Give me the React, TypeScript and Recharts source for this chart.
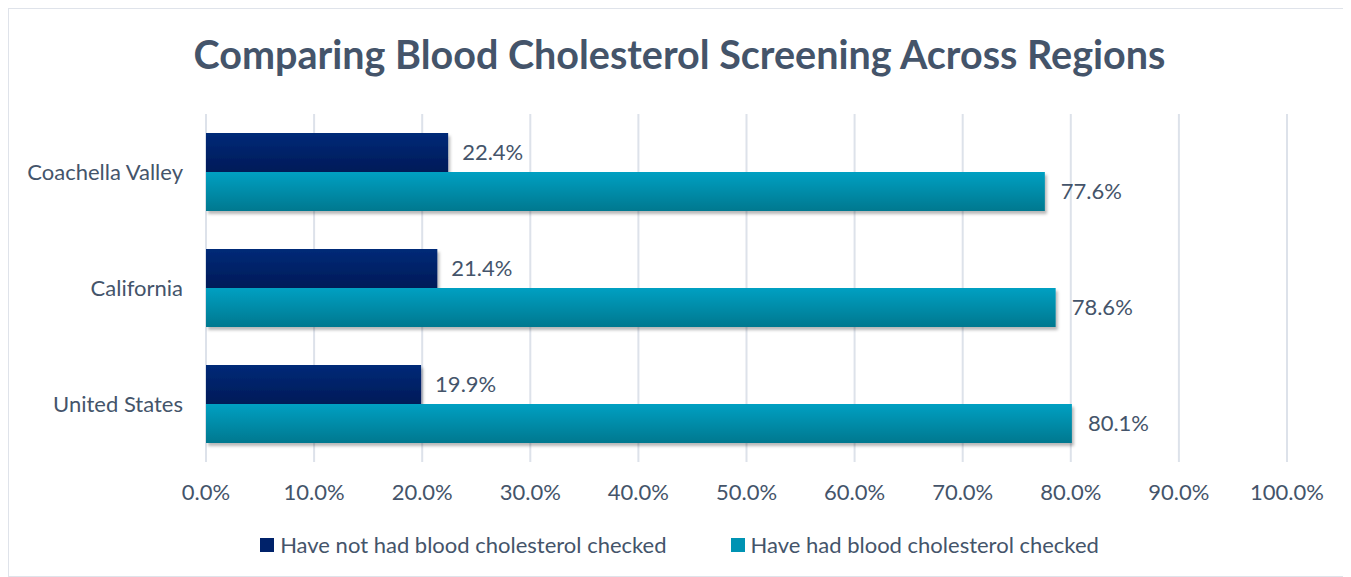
import React from 'react'
import { BarChart, Bar, XAxis, YAxis, CartesianGrid, Legend, LabelList } from 'recharts'

const regions = ['Coachella Valley', 'California', 'United States']
const notChecked = [22.4, 21.4, 19.9]
const checked = [77.6, 78.6, 80.1]
const xTicks = [0, 10, 20, 30, 40, 50, 60, 70, 80, 90, 100]

const SERIES_NOT = 'Have not had blood cholesterol checked'
const SERIES_YES = 'Have had blood cholesterol checked'

const TEXT = '#44546A'
const FONT = 'Lato, "Open Sans", sans-serif'
const FS = 22

const data = regions.map((name, i) => ({
  name,
  notChecked: notChecked[i],
  checked: checked[i],
}))

function LegendBox() {
  const items = [
    { label: SERIES_NOT, solid: '#00226a' },
    { label: SERIES_YES, solid: '#0093b3' },
  ]
  return (
    <div style={{ display: 'flex', justifyContent: 'center', gap: 64, fontFamily: FONT, fontSize: FS, color: TEXT }}>
      {items.map((it) => (
        <div key={it.label} style={{ display: 'flex', alignItems: 'center' }}>
          <svg width={14} height={14} style={{ marginRight: 6 }}>
            <rect width={14} height={14} fill={it.solid} />
          </svg>
          <span>{it.label}</span>
        </div>
      ))}
    </div>
  )
}

export default function App() {
  return (
    <div
      style={{
        position: 'relative',
        width: 1341,
        height: 567,
        border: '1px solid #dfe3ea',
        background: '#fff',
      }}
    >
      <div
        style={{
          position: 'absolute',
          top: 21,
          left: 0,
          width: '100%',
          textAlign: 'center',
          fontFamily: FONT,
          fontWeight: 700,
          fontSize: 39.5,
          color: TEXT,
        }}
      >
        Comparing Blood Cholesterol Screening Across Regions
      </div>
      <BarChart
        width={1341}
        height={567}
        data={data}
        layout="vertical"
        barGap={0}
        barCategoryGap={19}
        margin={{ top: 105, right: 63, left: 0, bottom: 47 }}
      >
        <defs>
          <linearGradient id="gradNavy" x1="0" y1="0" x2="0" y2="1">
            <stop offset="0%" stopColor="#002a78" />
            <stop offset="100%" stopColor="#001a58" />
          </linearGradient>
          <linearGradient id="gradTeal" x1="0" y1="0" x2="0" y2="1">
            <stop offset="0%" stopColor="#00a0c2" />
            <stop offset="100%" stopColor="#00788f" />
          </linearGradient>
          <filter id="barShadow" x="-5%" y="-20%" width="110%" height="160%">
            <feDropShadow dx="2" dy="3" stdDeviation="1.5" floodColor="#000" floodOpacity="0.28" />
          </filter>
        </defs>
        <CartesianGrid horizontal={false} stroke="#dde2ea" strokeWidth={2} />
        <XAxis
          type="number"
          domain={[0, 100]}
          ticks={xTicks}
          tickFormatter={(v: number) => `${v.toFixed(1)}%`}
          axisLine={false}
          tickLine={false}
          tickMargin={16}
          height={40}
          tick={{ fill: TEXT, fontSize: FS, fontFamily: FONT }}
          interval={0}
        />
        <YAxis
          type="category"
          dataKey="name"
          width={197}
          axisLine={false}
          tickLine={false}
          tickSize={0}
          tickMargin={23}
          tick={{ fill: TEXT, fontSize: FS, fontFamily: FONT }}
        />
        <Legend verticalAlign="bottom" wrapperStyle={{ top: 522, left: 0, width: 1341 }} content={() => <LegendBox />} />
        <Bar dataKey="notChecked" name={SERIES_NOT} fill="url(#gradNavy)" filter="url(#barShadow)" isAnimationActive={false}>
          <LabelList
            dataKey="notChecked"
            position="right"
            offset={14}
            formatter={(v: number) => `${v.toFixed(1)}%`}
            style={{ fill: TEXT, fontSize: FS, fontFamily: FONT }}
          />
        </Bar>
        <Bar dataKey="checked" name={SERIES_YES} fill="url(#gradTeal)" filter="url(#barShadow)" isAnimationActive={false}>
          <LabelList
            dataKey="checked"
            position="right"
            offset={16}
            formatter={(v: number) => `${v.toFixed(1)}%`}
            style={{ fill: TEXT, fontSize: FS, fontFamily: FONT }}
          />
        </Bar>
      </BarChart>
    </div>
  )
}
